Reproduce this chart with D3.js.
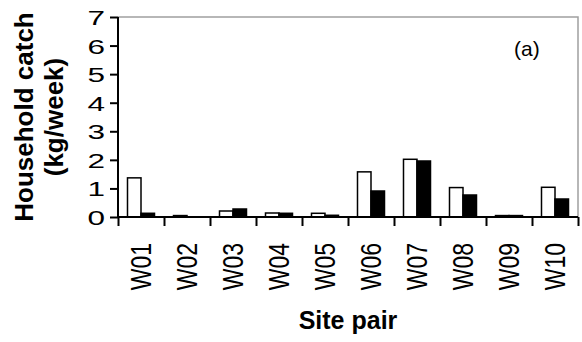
<!DOCTYPE html>
<html>
<head>
<meta charset="utf-8">
<script src="https://cdn.jsdelivr.net/npm/d3@7"></script>
<style>
    body { margin: 0; background: #fff; }
    text { font-family: "Liberation Sans", Arial, sans-serif; fill: #000; }
</style>
</head>
<body>
<div id="graph"></div>
<script>
// site pairs along the x axis
var sites = ['W01', 'W02', 'W03', 'W04', 'W05', 'W06', 'W07', 'W08', 'W09', 'W10'];
// household catch (kg/week), white bars then black bars
var catchWhite = [1.37, 0.05, 0.21, 0.14, 0.13, 1.58, 2.02, 1.03, 0.05, 1.04];
var catchBlack = [0.13, 0, 0.28, 0.13, 0.06, 0.91, 1.96, 0.77, 0.05, 0.63];
var yTicks = [0, 1, 2, 3, 4, 5, 6, 7];

var width = 582,
    height = 342;
var plotL = 118, plotR = 578, plotT = 17, plotB = 217;

var svg = d3.select('#graph')
    .append('svg')
        .attr('width', width)
        .attr('height', height);

var x0 = d3.scaleBand()
    .domain(sites)
    .range([plotL, plotR])
    .paddingInner(0.413)
    .paddingOuter(0.2065);

var x1 = d3.scaleBand()
    .domain(['white', 'black'])
    .range([0, x0.bandwidth()]);

var y = d3.scaleLinear()
    .domain([0, 7])
    .range([plotB, plotT]);

// plot border (grey, top and right)
svg.append('path')
    .attr('d', 'M' + plotL + ',' + plotT + 'H' + plotR + 'V' + plotB)
    .attr('fill', 'none')
    .attr('stroke', '#a0a0a0')
    .attr('stroke-width', 1.5);

// bars
var rows = sites.map(function(s, i) {
    return { site: s, vals: [
        { key: 'white', v: catchWhite[i] },
        { key: 'black', v: catchBlack[i] }
    ] };
});

var groups = svg.append('g')
    .selectAll('g')
    .data(rows).enter().append('g')
        .attr('transform', function(d) { return 'translate(' + x0(d.site) + ',0)'; });

groups.selectAll('rect')
    .data(function(d) { return d.vals.filter(function(e) { return e.v > 0; }); })
    .enter().append('rect')
        .attr('x', function(d) { return x1(d.key); })
        .attr('y', function(d) { return y(d.v); })
        .attr('width', x1.bandwidth())
        .attr('height', function(d) { return y(0) - y(d.v); })
        .attr('fill', function(d) { return d.key == 'white' ? '#fff' : '#000'; })
        .attr('stroke', '#000')
        .attr('stroke-width', 1.5);

// y axis
var yAxis = svg.append('g')
    .attr('transform', 'translate(' + plotL + ',0)')
    .call(d3.axisLeft(y).tickValues(yTicks).tickSize(8).tickPadding(4).tickFormat(d3.format('d')));
yAxis.select('.domain').attr('stroke-width', 2).attr('d', 'M0,' + plotT + 'V' + plotB);
yAxis.selectAll('line').attr('stroke-width', 2);
// labels in the reference are drawn wide
yAxis.selectAll('text')
    .attr('font-size', 21)
    .attr('font-family', '"Liberation Sans", Arial, sans-serif')
    .attr('x', -13 / 1.5)
    .attr('transform', 'scale(1.5,1)')
    .attr('dy', '0.36em');

// x axis ticks at category boundaries
var xb = d3.scaleLinear().domain([0, sites.length]).range([plotL, plotR]);
var xAxis = svg.append('g')
    .attr('transform', 'translate(0,' + plotB + ')')
    .call(d3.axisBottom(xb).tickValues(d3.range(sites.length + 1)).tickSize(9).tickFormat(''));
xAxis.select('.domain').attr('stroke-width', 2).attr('d', 'M' + plotL + ',0H' + plotR);
xAxis.selectAll('line').attr('stroke-width', 2);

// x labels, rotated
var xLab = svg.append('g')
    .attr('transform', 'translate(0,' + plotB + ')')
    .call(d3.axisBottom(x0).tickSize(0).tickPadding(0));
xLab.select('.domain').remove();
xLab.selectAll('text')
    .attr('font-size', 23)
    .attr('font-family', '"Liberation Sans", Arial, sans-serif')
    .attr('text-anchor', 'end')
    .attr('transform', 'translate(0,26) rotate(-90) scale(1,1.25)')
    .attr('x', 0)
    .attr('y', 0)
    .attr('dy', '0.36em');

// axis titles
var yTitle = svg.append('text')
    .attr('transform', 'translate(33,117) rotate(-90)')
    .attr('text-anchor', 'middle')
    .attr('font-size', 26)
    .attr('font-weight', 'bold');
yTitle.append('tspan').attr('x', 0).attr('y', 0).text('Household catch');
yTitle.append('tspan').attr('x', 0).attr('y', 30).text('(kg/week)');

svg.append('text')
    .attr('x', (plotL + plotR) / 2)
    .attr('y', 329)
    .attr('text-anchor', 'middle')
    .attr('font-size', 25)
    .attr('font-weight', 'bold')
    .text('Site pair');

svg.append('text')
    .attr('x', 514)
    .attr('y', 56)
    .attr('font-size', 21)
    .text('(a)');
</script>
</body>
</html>
